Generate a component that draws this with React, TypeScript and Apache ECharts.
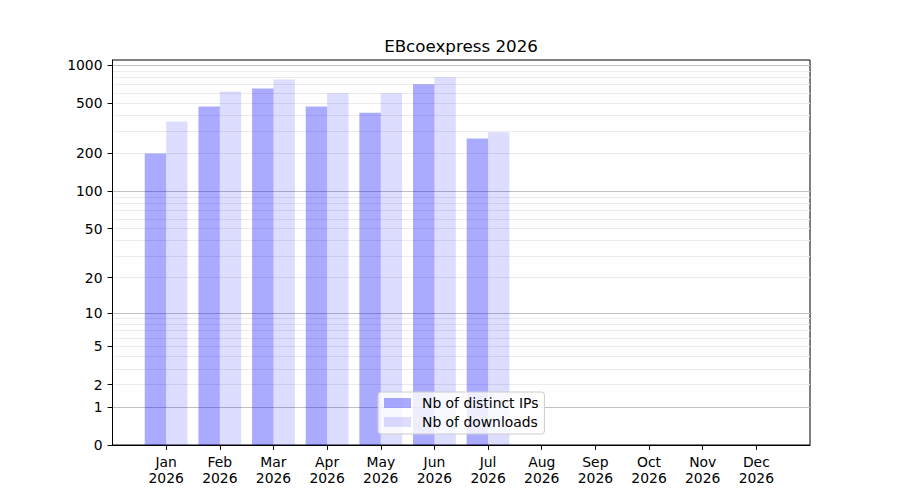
import React, { useEffect, useRef } from "react";
import * as echarts from "echarts";

const months = ["Jan", "Feb", "Mar", "Apr", "May", "Jun", "Jul", "Aug", "Sep", "Oct", "Nov", "Dec"];
const year = "2026";
const distinctIPs = [199, 469, 651, 469, 420, 704, 262, 0, 0, 0, 0, 0];
const downloads = [357, 617, 768, 598, 598, 800, 294, 0, 0, 0, 0, 0];
const yTickValues = [0, 1, 2, 5, 10, 20, 50, 100, 200, 500, 1000];
const majorGridValues = [1, 10, 100, 1000];
const minorGridValues = [
  2, 3, 4, 5, 6, 7, 8, 9,
  20, 30, 40, 50, 60, 70, 80, 90,
  200, 300, 400, 500, 600, 700, 800, 900,
];
const titleText = "EBcoexpress 2026";
const seriesNames = ["Nb of distinct IPs", "Nb of downloads"];

// symlog-like transform log10(1 + x)
const tf = (v: number) => Math.log10(1 + v);
const inv = (t: number) => Math.round(Math.pow(10, t) - 1);

const FONT = "DejaVu Sans";
const Y_MAX = 3.04;

export default function App() {
  const ref = useRef<HTMLDivElement>(null);
  useEffect(() => {
    if (!ref.current) return;
    const chart = echarts.init(ref.current, undefined, { renderer: "svg" });
    const cats = ["", ...months.map((m) => `${m}\n${year}`), ""];
    const pad = (arr: number[]) => [null, ...arr.map(tf), null];
    const baseY = {
      type: "value" as const,
      min: 0,
      max: Y_MAX,
      position: "left" as const,
    };
    chart.setOption({
      animation: false,
      title: {
        text: titleText,
        left: 461,
        top: 37,
        padding: 0,
        textAlign: "center",
        textStyle: { fontFamily: FONT, fontSize: 16.7, fontWeight: "normal", color: "#000" },
      },
      legend: {
        orient: "vertical",
        left: 378,
        top: 392,
        icon: "rect",
        itemWidth: 27,
        itemHeight: 10,
        itemGap: 5,
        padding: [4, 6, 5, 6],
        backgroundColor: "rgba(255,255,255,0.8)",
        borderColor: "#cccccc",
        borderWidth: 1,
        borderRadius: 3,
        textStyle: { fontFamily: FONT, fontSize: 13.9, color: "#000", padding: [0, 0, 0, 6] },
        data: seriesNames,
      },
      grid: {
        left: 112.5,
        right: 90,
        top: 60,
        bottom: 55,
        containLabel: false,
        outerBoundsMode: "none",
        show: true,
        borderColor: "#000",
        borderWidth: 1,
        backgroundColor: "transparent",
      },
      xAxis: {
        type: "category",
        data: cats,
        boundaryGap: false,
        axisLine: { show: true, lineStyle: { color: "#000", width: 1 } },
        axisTick: {
          show: true,
          length: 4.9,
          interval: (idx: number) => idx > 0 && idx < cats.length - 1,
          lineStyle: { color: "#000", width: 1 },
        },
        axisLabel: {
          interval: 0,
          fontFamily: FONT,
          fontSize: 13.9,
          lineHeight: 16,
          color: "#000",
          margin: 9,
        },
        splitLine: { show: false },
      },
      yAxis: [
        {
          ...baseY,
          axisLine: { show: true, lineStyle: { color: "#000", width: 1 } },
          axisTick: {
            show: true,
            length: 4.9,
            customValues: yTickValues.map(tf),
            lineStyle: { color: "#000", width: 1 },
          },
          axisLabel: {
            show: true,
            customValues: yTickValues.map(tf),
            formatter: (v: number) => String(inv(v)),
            fontFamily: FONT,
            fontSize: 13.9,
            color: "#000",
            margin: 10,
            hideOverlap: false,
          },
          splitLine: { show: false },
        },
        {
          ...baseY,
          axisLine: { show: false },
          axisTick: { show: false, customValues: minorGridValues.map(tf) },
          axisLabel: { show: false },
          splitLine: { show: true, lineStyle: { color: "#ebebeb", width: 1 } },
        },
        {
          ...baseY,
          axisLine: { show: false },
          axisTick: { show: false, customValues: majorGridValues.map(tf) },
          axisLabel: { show: false },
          splitLine: { show: true, lineStyle: { color: "#c0c0c0", width: 1 } },
        },
      ],
      series: [
        {
          name: seriesNames[0],
          type: "bar",
          yAxisIndex: 0,
          data: pad(distinctIPs),
          barWidth: 21.4,
          barGap: "0%",
          itemStyle: { color: "rgba(0,0,255,0.333)" },
        },
        {
          name: seriesNames[1],
          type: "bar",
          yAxisIndex: 0,
          data: pad(downloads),
          barWidth: 21.4,
          barGap: "0%",
          itemStyle: { color: "rgba(0,0,255,0.133)" },
        },
      ],
    });
    return () => chart.dispose();
  }, []);
  return (
    <div
      ref={ref}
      style={{ position: "fixed", left: 0, top: 0, width: 900, height: 500, background: "#fff" }}
    />
  );
}
